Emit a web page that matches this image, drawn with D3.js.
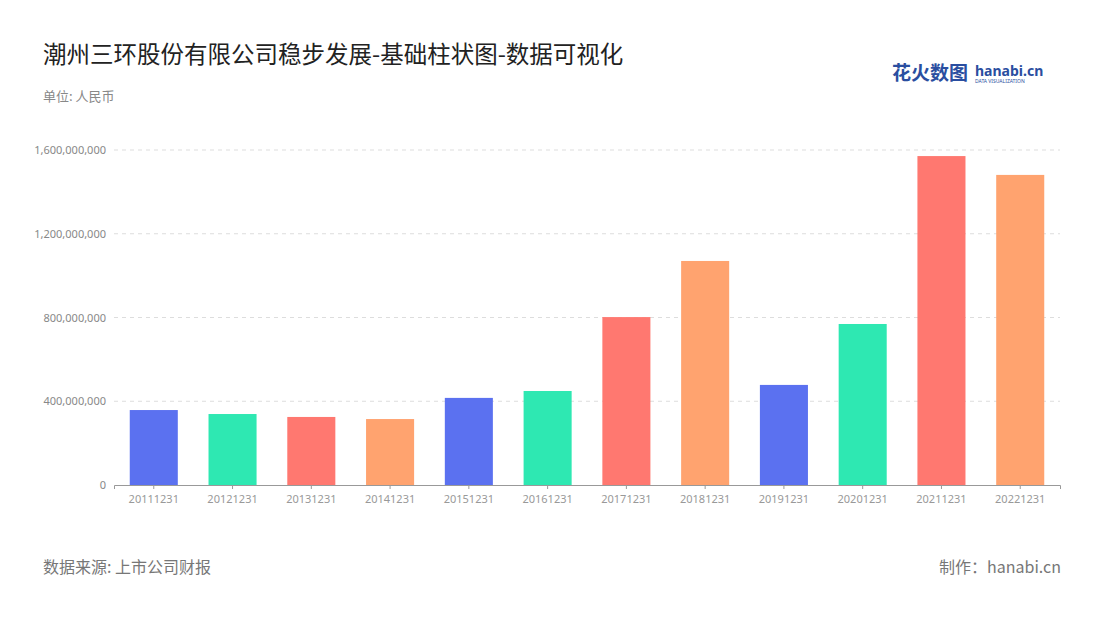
<!DOCTYPE html>
<html><head><meta charset="utf-8">
<script src="https://cdn.jsdelivr.net/npm/d3@7"></script>
<style>body{margin:0;background:#fff;font-family:"Noto Sans CJK SC","Noto Sans",sans-serif}</style>
</head><body><svg id="c" width="1100" height="620"></svg>
<script>
const categories=["20111231","20121231","20131231","20141231","20151231","20161231","20171231","20181231","20191231","20201231","20211231","20221231"];
const values=[358e6,339e6,325e6,315e6,416e6,449e6,802e6,1070e6,478e6,769e6,1571e6,1481e6];
const colors=["#5b71f0","#2ee8b2","#ff7870","#ffa36f"];
const yTicks=[0,400e6,800e6,1200e6,1600e6];
const svg=d3.select("#c");
const m={l:114,r:1060,t:150,b:485};
const x=d3.scaleBand().domain(categories).range([m.l,m.r]).paddingInner(0.39).paddingOuter(0.2);
const y=d3.scaleLinear().domain([0,1600e6]).range([m.b,m.t]);
svg.append("text").attr("x",43).attr("y",63).attr("font-size",23.5).attr("fill","#222").text("潮州三环股份有限公司稳步发展-基础柱状图-数据可视化");
svg.append("text").attr("x",43).attr("y",101).attr("font-size",13).attr("fill","#888").text("单位: 人民币");
const ya=svg.append("g").attr("transform",`translate(${m.l},0)`).call(d3.axisLeft(y).tickValues(yTicks).tickFormat(d3.format(",")).tickSize(0).tickPadding(8));
ya.select(".domain").remove();
ya.selectAll("text").attr("fill","#888").attr("font-size",11).attr("font-family","Noto Sans");
svg.append("g").selectAll("line").data(yTicks.slice(1)).join("line").attr("x1",m.l).attr("x2",m.r).attr("y1",d=>y(d)).attr("y2",d=>y(d)).attr("stroke","#ddd").attr("stroke-dasharray","4,4");
svg.append("g").selectAll("rect").data(values).join("rect").attr("x",(d,i)=>x(categories[i])).attr("width",x.bandwidth()).attr("y",d=>y(d)).attr("height",d=>y(0)-y(d)).attr("fill",(d,i)=>colors[i%4]);
const xa=svg.append("g").attr("transform",`translate(0,${m.b})`).call(d3.axisBottom(x).tickSize(4).tickPadding(6));
xa.select(".domain").attr("stroke","#999");xa.selectAll("line").attr("stroke","#999");
xa.selectAll("text").attr("fill","#999").attr("font-size",11).attr("font-family","Noto Sans");
svg.append("text").attr("x",43).attr("y",573).attr("font-size",16).attr("fill","#777").text("数据来源: 上市公司财报");
svg.append("text").attr("x",1061).attr("y",573).attr("text-anchor","end").attr("font-size",16).attr("fill","#777").text("制作：hanabi.cn");
svg.append("text").attr("x",892).attr("y",80).attr("font-size",19).attr("font-weight","bold").attr("fill","#2a4ea0").text("花火数图");
svg.append("text").attr("x",975).attr("y",76).attr("font-size",14).attr("font-weight","bold").attr("fill","#2a4ea0").attr("font-family","Noto Sans").text("hanabi.cn");
svg.append("text").attr("x",975).attr("y",83).attr("font-size",5).attr("fill","#2a4ea0").attr("font-family","Noto Sans").text("DATA VISUALIZATION");
</script></body></html>
